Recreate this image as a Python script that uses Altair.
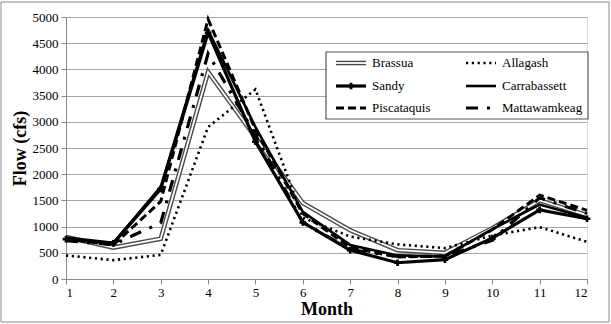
import altair as alt
import pandas as pd

months = [1, 2, 3, 4, 5, 6, 7, 8, 9, 10, 11, 12]
brassua = [800, 600, 770, 3950, 2700, 1450, 930, 550, 500, 970, 1500, 1220]
allagash = [450, 360, 460, 2900, 3620, 1170, 810, 660, 590, 830, 990, 710]
sandy = [760, 680, 1720, 4700, 2620, 1080, 550, 310, 370, 780, 1320, 1150]
carrabassett = [790, 690, 1760, 4750, 2900, 1280, 650, 450, 430, 950, 1420, 1170]
piscataquis = [760, 650, 1480, 4960, 2850, 1250, 600, 420, 440, 940, 1600, 1310]
mattawamkeag = [730, 660, 1070, 4300, 2750, 1080, 560, 430, 430, 740, 1550, 1250]

series_names = ["Brassua", "Allagash", "Sandy", "Carrabassett", "Piscataquis", "Mattawamkeag"]
series_values = [brassua, allagash, sandy, carrabassett, piscataquis, mattawamkeag]

rows = []
for name, vals in zip(series_names, series_values):
    for m, v in zip(months, vals):
        rows.append({"series": name, "month": m, "flow": v})
df = pd.DataFrame(rows)

FONT = "'Times New Roman', 'Liberation Serif', serif"
W, H = 521, 262

xenc = alt.X("month:Q",
             scale=alt.Scale(domain=[1, 12], nice=False, zero=False),
             axis=alt.Axis(values=months, title="Month", grid=False, format="d",
                           labelFont=FONT, labelFontSize=13, labelColor="#000",
                           titleFont=FONT, titleFontSize=18, titleFontWeight="bold",
                           titleColor="#000", domainColor="#8a8a8a", tickColor="#8a8a8a",
                           tickSize=5, labelPadding=2, titlePadding=1))
yenc = alt.Y("flow:Q",
             scale=alt.Scale(domain=[0, 5000], nice=False),
             axis=alt.Axis(values=list(range(0, 5001, 500)), title="Flow (cfs)", format="d",
                           grid=True, gridColor="#a6a6a6", gridWidth=1,
                           labelFont=FONT, labelFontSize=13, labelColor="#000",
                           titleFont=FONT, titleFontSize=18, titleFontWeight="bold",
                           titleColor="#000", domainColor="#8a8a8a", tickColor="#8a8a8a",
                           tickSize=5, labelPadding=3, titlePadding=3))

styles = {
    "Allagash": dict(strokeDash=[2.2, 3.6], strokeWidth=2.6, strokeCap="butt"),
    "Sandy": dict(strokeWidth=3.2),
    "Carrabassett": dict(strokeWidth=2.6),
    "Piscataquis": dict(strokeDash=[8, 4], strokeWidth=3),
    "Mattawamkeag": dict(strokeDash=[12, 9, 3, 9], strokeWidth=3.2),
}

base = alt.Chart(df)
layers = []
# Brassua double line
b = base.transform_filter(alt.datum.series == "Brassua")
layers.append(b.mark_line(color="#4a4a4a", strokeWidth=4.6).encode(x=xenc, y=yenc))
layers.append(b.mark_line(color="#ffffff", strokeWidth=1.8).encode(x=xenc, y=yenc))
for name in series_names[1:]:
    s = base.transform_filter(alt.datum.series == name)
    layers.append(s.mark_line(color="#000", **styles[name]).encode(x=xenc, y=yenc))
    if name == "Sandy":
        layers.append(s.mark_point(shape="cross", filled=True, color="#000", size=45,
                                   opacity=1).encode(x=xenc, y=yenc))

# legend (pixel layout inside plot)
lx0, lx1, ly0, ly1 = 260, 522, 35, 102
box = pd.DataFrame({"a": [0]})
layers.append(alt.Chart(box).mark_rect(fill="white", stroke="#555", strokeWidth=1.2).encode(
    x=alt.value(lx0), x2=alt.value(lx1), y=alt.value(ly0), y2=alt.value(ly1)))

row_y = [46, 69, 91]
col_x = [270, 400]
leg_rows = []
for i, name in enumerate(series_names):
    c, r = i % 2, i // 2
    leg_rows.append({"series": name, "sx": col_x[c], "sx2": col_x[c] + 30,
                     "sy": row_y[r], "tx": col_x[c] + 36})
leg = pd.DataFrame(leg_rows)
lb = alt.Chart(leg)
px = lambda f: alt.X(f"{f}:Q", scale=None)
py = lambda f: alt.Y(f"{f}:Q", scale=None)
lbr = lb.transform_filter(alt.datum.series == "Brassua")
layers.append(lbr.mark_rule(color="#4a4a4a", strokeWidth=4.6).encode(x=px("sx"), x2="sx2:Q", y=py("sy")))
layers.append(lbr.mark_rule(color="#ffffff", strokeWidth=1.8).encode(x=px("sx"), x2="sx2:Q", y=py("sy")))
for name in series_names[1:]:
    st = dict(styles[name])
    ls = lb.transform_filter(alt.datum.series == name)
    layers.append(ls.mark_rule(color="#000", **st).encode(x=px("sx"), x2="sx2:Q", y=py("sy")))
    if name == "Sandy":
        layers.append(ls.transform_calculate(cx="(datum.sx + datum.sx2) / 2").mark_point(
            shape="cross", filled=True, color="#000", size=45, opacity=1).encode(
            x=px("cx"), y=py("sy")))
layers.append(lb.mark_text(align="left", baseline="middle", font=FONT, fontSize=13,
                           color="#000").encode(x=px("tx"), y=py("sy"), text="series:N"))

# outer frame
layers.append(alt.Chart(box).mark_rect(fill=None, stroke="#8a8a8a", strokeWidth=1).encode(
    x=alt.value(-65), x2=alt.value(543), y=alt.value(-15), y2=alt.value(305)))

chart = alt.layer(*layers).properties(
    width=W, height=H,
    autosize=alt.AutoSizeParams(type="none"),
    padding={"left": 66, "top": 17, "right": 24, "bottom": 45},
).configure_view(stroke=None).configure(background="white", font=FONT)

chart.save("out.html", embed_options={"renderer": "svg", "actions": False})
